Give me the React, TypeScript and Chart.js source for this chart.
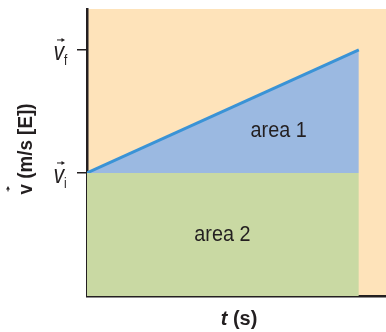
import React, { useEffect, useRef } from "react";
import { Chart, registerables } from "chart.js";

Chart.register(...registerables);

// ---- data ----
const timeValues = [0, 10];
const baseVelocity = [1, 1]; // top of area 2 (v_i)
const velocityValues = [1, 2]; // v_i -> v_f
const yTickValues = [1, 2];
const yTickSubscripts = ["i", "f"];
const areaLabelTexts = ["area 1", "area 2"];
const areaLabelTimes = [7.05, 4.98];
const areaLabelVelocities = [1.34, 0.5];
const xAxisVar = "t";
const xAxisUnit = " (s)";
const yAxisVar = "v";
const yAxisUnit = " (m/s [E])";

const ORANGE = "#FEE3BA";
const BLUE = "#9BB9E1";
const GREEN = "#C9D9A3";
const LINE = "#3A93D6";
const INK = "#231F20";
const SANS = '"Liberation Sans", Arial, sans-serif';

function drawArrow(ctx: CanvasRenderingContext2D, x1: number, x2: number, y: number) {
  ctx.save();
  ctx.strokeStyle = INK;
  ctx.fillStyle = INK;
  ctx.lineWidth = 1;
  ctx.beginPath();
  ctx.moveTo(x1, y);
  ctx.lineTo(x2 - 2, y);
  ctx.stroke();
  ctx.beginPath();
  ctx.moveTo(x2, y);
  ctx.lineTo(x2 - 3.5, y - 2);
  ctx.lineTo(x2 - 3.5, y + 2);
  ctx.closePath();
  ctx.fill();
  ctx.restore();
}

// draw horizontally condensed text; align: 'left' | 'center' | 'right'
function narrowText(
  ctx: CanvasRenderingContext2D,
  text: string,
  x: number,
  y: number,
  font: string,
  sx: number,
  align: "left" | "center" | "right",
  baseline: CanvasTextBaseline
) {
  ctx.save();
  ctx.font = font;
  ctx.textAlign = "left";
  ctx.textBaseline = baseline;
  const w = ctx.measureText(text).width * sx;
  let left = x;
  if (align === "center") left = x - w / 2;
  if (align === "right") left = x - w;
  ctx.translate(left, y);
  ctx.scale(sx, 1);
  ctx.fillText(text, 0, 0);
  ctx.restore();
  return w;
}

const decorPlugin = {
  id: "decor",
  beforeDraw(chart: any) {
    const { ctx, chartArea } = chart;
    ctx.save();
    ctx.fillStyle = ORANGE;
    ctx.fillRect(chartArea.left, chartArea.top, chartArea.right - chartArea.left, chartArea.bottom - chartArea.top);
    ctx.restore();
  },
  afterDraw(chart: any) {
    const { ctx } = chart;
    const xs = chart.scales.x;
    const ys = chart.scales.y;
    ctx.save();
    ctx.fillStyle = INK;

    // y tick labels: v with arrow and subscript
    yTickValues.forEach((val, i) => {
      const ty = ys.getPixelForValue(val);
      narrowText(ctx, yAxisVar, 64, ty + 10, `italic 25px ${SANS}`, 0.85, "right", "alphabetic");
      narrowText(ctx, yTickSubscripts[i], 64, ty + 15, `14px ${SANS}`, 0.85, "left", "alphabetic");
      drawArrow(ctx, 57, 65, ty - 10);
    });

    // area labels
    areaLabelTexts.forEach((t, i) => {
      narrowText(
        ctx,
        t,
        xs.getPixelForValue(areaLabelTimes[i]),
        ys.getPixelForValue(areaLabelVelocities[i]),
        `22px ${SANS}`,
        0.9,
        "center",
        "middle"
      );
    });

    // x axis title
    ctx.textBaseline = "alphabetic";
    ctx.textAlign = "left";
    const boldIt = `italic bold 20px ${SANS}`;
    const bold = `bold 20px ${SANS}`;
    ctx.font = boldIt;
    const w1 = ctx.measureText(xAxisVar).width;
    ctx.font = bold;
    const w2 = ctx.measureText(xAxisUnit).width;
    const cx = 239;
    const startX = cx - (w1 + w2) / 2;
    ctx.font = boldIt;
    ctx.fillText(xAxisVar, startX, 325);
    ctx.font = bold;
    ctx.fillText(xAxisUnit, startX + w1, 325);

    // y axis title (rotated)
    ctx.save();
    ctx.translate(32, 149);
    ctx.rotate(-Math.PI / 2);
    const yFont = `bold 20px ${SANS}`;
    const sxY = 0.94;
    ctx.font = yFont;
    const vw = ctx.measureText(yAxisVar).width * sxY;
    const uw = ctx.measureText(yAxisUnit).width * sxY;
    const sx = -(vw + uw) / 2;
    narrowText(ctx, yAxisVar, sx, 0, yFont, sxY, "left", "alphabetic");
    narrowText(ctx, yAxisUnit, sx + vw, 0, yFont, sxY, "left", "alphabetic");
    drawArrow(ctx, sx + 3, sx + vw - 2, -24);
    ctx.restore();

    ctx.restore();
  },
};

export default function App() {
  const ref = useRef<HTMLCanvasElement>(null);
  useEffect(() => {
    if (!ref.current) return;
    const chart = new Chart(ref.current, {
      type: "line",
      data: {
        datasets: [
          {
            data: timeValues.map((t, i) => ({ x: t, y: baseVelocity[i] })),
            fill: "origin",
            backgroundColor: GREEN,
            borderWidth: 0,
            pointRadius: 0,
          },
          {
            data: timeValues.map((t, i) => ({ x: t, y: velocityValues[i] })),
            fill: "-1",
            backgroundColor: BLUE,
            borderColor: LINE,
            borderWidth: 3,
            pointRadius: 0,
          },
        ],
      },
      options: {
        animation: false,
        responsive: false,
        events: [],
        layout: { padding: { top: 9, right: 0, left: 0, bottom: 0 } },
        plugins: { legend: { display: false }, tooltip: { enabled: false } },
        scales: {
          x: {
            type: "linear",
            min: 0,
            max: 11,
            z: 1,
            ticks: { display: false },
            grid: { display: false },
            border: { display: true, color: INK, width: 2.5 },
            afterFit: (s: any) => {
              s.height = 36;
            },
          },
          y: {
            type: "linear",
            min: 0,
            max: 2.333,
            z: 1,
            afterBuildTicks: (s: any) => {
              s.ticks = yTickValues.map((v) => ({ value: v }));
            },
            ticks: { display: false },
            grid: { drawOnChartArea: false, drawTicks: true, tickLength: 10, color: INK, lineWidth: 1.5 },
            border: { display: true, color: INK, width: 2.5 },
            afterFit: (s: any) => {
              s.width = 87;
            },
          },
        },
      },
      plugins: [decorPlugin],
    });
    return () => chart.destroy();
  }, []);
  return (
    <div style={{ position: "fixed", left: 0, top: 0, width: 386, height: 332, background: "#fff" }}>
      <canvas ref={ref} width={386} height={332} style={{ display: "block" }} />
    </div>
  );
}
